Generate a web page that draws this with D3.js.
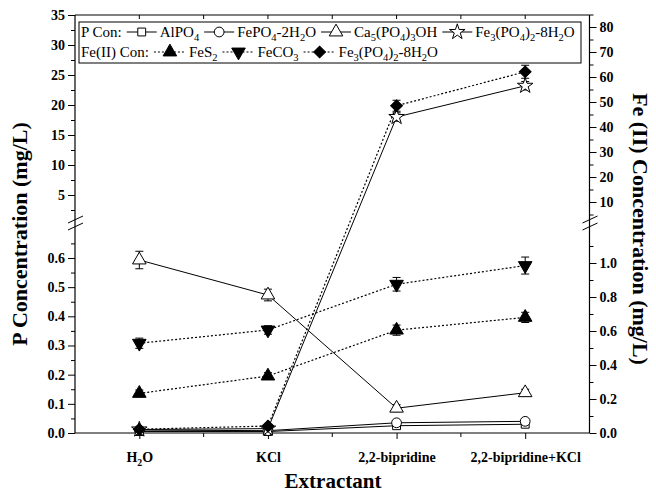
<!DOCTYPE html>
<html><head><meta charset="utf-8">
<script src="https://cdn.jsdelivr.net/npm/d3@7"></script>
<style>body{margin:0;background:#fff} svg{display:block}</style>
</head><body><svg id="c" width="656" height="494"></svg>
<script>
// ---- data ----
const categories = ["H_{2}O", "KCl", "2,2-bipridine", "2,2-bipridine+KCl"];
// P concentration (left axis, mg/L)
const alpo4 = [0.005, 0.005, 0.025, 0.030];
const alpo4Err = [0, 0, 0.006, 0.006];
const fepo4 = [0.010, 0.008, 0.035, 0.040];
const fepo4Err = [0, 0, 0.006, 0.006];
const ca5 = [0.593, 0.473, 0.085, 0.138];
const ca5Err = [0.03, 0.02, 0.012, 0.012];
const fe3pP = [0.012, 0.015, 18.0, 23.2];
const fe3pPErr = [0, 0, 0.7, 0.7];
// Fe(II) concentration (right axis, mg/L)
const fes2 = [0.233, 0.335, 0.605, 0.680];
const fes2Err = [0.02, 0.02, 0.03, 0.03];
const feco3 = [0.528, 0.606, 0.875, 0.985];
const feco3Err = [0.03, 0.025, 0.04, 0.05];
const fe3pFe = [0.022, 0.041, 48.5, 62.1];
const fe3pFeErr = [0.01, 0.01, 2.2, 2.6];
// ticks
const leftUpperTicks = [5, 10, 15, 20, 25, 30, 35];
const leftUpperMinor = [2.5, 7.5, 12.5, 17.5, 22.5, 27.5, 32.5];
const leftLowerTicks = [0, 0.1, 0.2, 0.3, 0.4, 0.5, 0.6];
const leftLowerMinor = [0.05, 0.15, 0.25, 0.35, 0.45, 0.55, 0.65];
const rightUpperTicks = [10, 20, 30, 40, 50, 60, 70, 80];
const rightUpperMinor = [5, 15, 25, 35, 45, 55, 65, 75, 85];
const rightLowerTicks = [0, 0.2, 0.4, 0.6, 0.8, 1.0];
const rightLowerMinor = [0.1, 0.3, 0.5, 0.7, 0.9, 1.1];

const FONT = "'Liberation Serif','Times New Roman',serif";
const svg = d3.select("#c");

// ---- scales ----
const L = 75, R = 589.5, T = 15, B = 433;
const x = d3.scalePoint().domain(categories).range([L, R]).padding(0.5);
const yLL = d3.scaleLinear().domain([0, 0.7]).range([B, 228.8]);
const yLU = d3.scaleLinear().domain([1.5, 35]).range([216, T]);
const yL = v => v <= 0.7 ? yLL(v) : yLU(v);
const yRL = d3.scaleLinear().domain([0, 1.2]).range([B, 229]);
const yRU = d3.scaleLinear().domain([4, 85]).range([217, 14.5]);
const yR = v => v <= 1.2 ? yRL(v) : yRU(v);

// rich text helper: _{..} = subscript
function rich(sel, str, size) {
  const parts = str.split(/(_\{[^}]*\})/).filter(s => s.length);
  let off = 0;
  parts.forEach(p => {
    const sub = p.startsWith("_{");
    const txt = sub ? p.slice(2, -1) : p;
    const target = sub ? size * 0.28 : 0;
    sel.append("tspan").attr("dy", target - off)
      .attr("font-size", sub ? size * 0.7 : size).text(txt);
    off = target;
  });
}

// ---- axes ----
function styleAxis(g) {
  g.select(".domain").remove();
  g.selectAll("text").attr("font-family", FONT).attr("font-weight", "bold")
    .attr("font-size", 14).attr("fill", "#000");
  g.selectAll("line").attr("stroke", "#000").attr("stroke-width", 1);
}
const fmt1 = d3.format(".1f");
svg.append("g").attr("transform", `translate(${L},0)`)
  .call(d3.axisLeft(yLU).tickValues(leftUpperTicks).tickSize(7).tickPadding(3)).call(styleAxis);
svg.append("g").attr("transform", `translate(${L},0)`)
  .call(d3.axisLeft(yLU).tickValues(leftUpperMinor).tickSize(4).tickFormat("")).call(styleAxis);
svg.append("g").attr("transform", `translate(${L},0)`)
  .call(d3.axisLeft(yLL).tickValues(leftLowerTicks).tickSize(7).tickPadding(3).tickFormat(fmt1)).call(styleAxis);
svg.append("g").attr("transform", `translate(${L},0)`)
  .call(d3.axisLeft(yLL).tickValues(leftLowerMinor).tickSize(4).tickFormat("")).call(styleAxis);
svg.append("g").attr("transform", `translate(${R},0)`)
  .call(d3.axisRight(yRU).tickValues(rightUpperTicks).tickSize(7).tickPadding(3)).call(styleAxis);
svg.append("g").attr("transform", `translate(${R},0)`)
  .call(d3.axisRight(yRU).tickValues(rightUpperMinor).tickSize(4).tickFormat("")).call(styleAxis);
svg.append("g").attr("transform", `translate(${R},0)`)
  .call(d3.axisRight(yRL).tickValues(rightLowerTicks).tickSize(7).tickPadding(3).tickFormat(fmt1)).call(styleAxis);
svg.append("g").attr("transform", `translate(${R},0)`)
  .call(d3.axisRight(yRL).tickValues(rightLowerMinor).tickSize(4).tickFormat("")).call(styleAxis);

// x axis
const xa = svg.append("g").attr("transform", `translate(0,${B})`)
  .call(d3.axisBottom(x).tickSize(6).tickPadding(12).tickFormat(""));
styleAxis(xa);
xa.selectAll(".tick").each(function(d) {
  const t = d3.select(this).append("text").attr("y", 29).attr("text-anchor", "middle")
    .attr("font-family", FONT).attr("font-weight", "bold").attr("fill", "#000");
  rich(t, d, 14);
});
const step = x.step();
const mids = categories.slice(0, -1).map(c => x(c) + step / 2);
svg.append("g").selectAll("line").data(mids).join("line")
  .attr("x1", d => d).attr("x2", d => d).attr("y1", B).attr("y2", B + 4).attr("stroke", "#000");
// top ticks
svg.append("g").selectAll("line").data(categories.map(c => x(c)).concat(mids)).join("line")
  .attr("x1", d => d).attr("x2", d => d).attr("y1", T).attr("y2", T + 4).attr("stroke", "#000");

// frame lines
const frame = svg.append("g").attr("stroke", "#000").attr("stroke-width", 1.2);
frame.append("line").attr("x1", L).attr("x2", L).attr("y1", T).attr("y2", B);
frame.append("line").attr("x1", R).attr("x2", R).attr("y1", T).attr("y2", B);
frame.append("line").attr("x1", L).attr("x2", R).attr("y1", B).attr("y2", B);
frame.append("line").attr("x1", L).attr("x2", R).attr("y1", T).attr("y2", T);
// break marks
[L, R].forEach(ax => {
  [0, 7].forEach(o => {
    svg.append("line").attr("x1", ax - 7).attr("y1", 223 + o).attr("x2", ax + 8).attr("y2", 216 + o)
      .attr("stroke", "#000").attr("stroke-width", 1);
  });
});

// ---- series ----
const seriesP = [
  {name: "AlPO_{4}", vals: alpo4, err: alpo4Err, shape: "square", fill: "#fff"},
  {name: "FePO_{4}-2H_{2}O", vals: fepo4, err: fepo4Err, shape: "circle", fill: "#fff"},
  {name: "Ca_{5}(PO_{4})_{3}OH", vals: ca5, err: ca5Err, shape: "triUp", fill: "#fff"},
  {name: "Fe_{3}(PO_{4})_{2}-8H_{2}O", vals: fe3pP, err: fe3pPErr, shape: "star", fill: "#fff"}
];
const seriesFe = [
  {name: "FeS_{2}", vals: fes2, err: fes2Err, shape: "triUp", fill: "#000"},
  {name: "FeCO_{3}", vals: feco3, err: feco3Err, shape: "triDown", fill: "#000"},
  {name: "Fe_{3}(PO_{4})_{2}-8H_{2}O", vals: fe3pFe, err: fe3pFeErr, shape: "diamond", fill: "#000"}
];
function symPath(shape) {
  switch (shape) {
    case "square": return d3.symbol(d3.symbolSquare, 62)();
    case "circle": return d3.symbol(d3.symbolCircle, 75)();
    case "triUp": return d3.symbol(d3.symbolTriangle, 80)();
    case "triDown": return d3.symbol(d3.symbolTriangle, 80)();
    case "star": return d3.symbol(d3.symbolStar, 75)();
    case "diamond": return d3.symbol(d3.symbolSquare, 70)();
  }
}
function symRot(shape) { return shape === "triDown" ? 180 : shape === "diamond" ? 45 : 0; }
function drawMarker(g, shape, fill, cx, cy) {
  g.append("path").attr("d", symPath(shape))
    .attr("transform", `translate(${cx},${cy}) rotate(${symRot(shape)})`)
    .attr("fill", fill).attr("stroke", "#000").attr("stroke-width", 1);
}
function drawSeries(s, yf, dashed) {
  const g = svg.append("g");
  const pts = s.vals.map((v, i) => [x(categories[i]), yf(v)]);
  g.append("path").attr("d", d3.line()(pts)).attr("fill", "none").attr("stroke", "#000")
    .attr("stroke-width", dashed ? 1.2 : 1).attr("stroke-dasharray", dashed ? "2,2" : null);
  s.vals.forEach((v, i) => {
    const e = s.err[i];
    if (e > 0) {
      const cx = x(categories[i]), y1 = yf(v + e), y2 = yf(v - e);
      g.append("line").attr("x1", cx).attr("x2", cx).attr("y1", y1).attr("y2", y2).attr("stroke", "#000");
      [y1, y2].forEach(yy => g.append("line").attr("x1", cx - 4).attr("x2", cx + 4)
        .attr("y1", yy).attr("y2", yy).attr("stroke", "#000"));
    }
  });
  s.vals.forEach((v, i) => drawMarker(g, s.shape, s.fill, x(categories[i]), yf(v)));
}
seriesP.forEach(s => drawSeries(s, yL, false));
seriesFe.forEach(s => drawSeries(s, yR, true));

// ---- legend ----
const lg = svg.append("g");
lg.append("rect").attr("x", 79).attr("y", 22).attr("width", 502).attr("height", 41)
  .attr("fill", "#fff").attr("stroke", "#000").attr("stroke-width", 1);
function legendRow(label, items, yBase, dashed) {
  let cx = 81;
  const t0 = lg.append("text").attr("x", cx).attr("y", yBase).attr("font-family", FONT)
    .attr("font-size", 15).text(label);
  cx += t0.node().getComputedTextLength() + 5;
  items.forEach(s => {
    const w = dashed ? 32 : 30;
    lg.append("line").attr("x1", cx).attr("x2", cx + w).attr("y1", yBase - 5).attr("y2", yBase - 5)
      .attr("stroke", "#000").attr("stroke-width", 1).attr("stroke-dasharray", dashed ? "2,2" : null);
    drawMarker(lg, s.shape, s.fill, cx + w / 2, yBase - 5);
    cx += w + 3;
    const t = lg.append("text").attr("x", cx).attr("y", yBase).attr("font-family", FONT).attr("fill", "#000");
    rich(t, s.name, 15);
    cx += t.node().getComputedTextLength() + 5;
  });
}
legendRow("P Con:", seriesP, 37, false);
legendRow("Fe(II) Con:", seriesFe, 57, true);

// ---- titles ----
svg.append("text").attr("x", 333).attr("y", 488).attr("text-anchor", "middle")
  .attr("font-family", FONT).attr("font-weight", "bold").attr("font-size", 21).text("Extractant");
svg.append("text").attr("transform", "translate(27,234) rotate(-90)").attr("text-anchor", "middle")
  .attr("font-family", FONT).attr("font-weight", "bold").attr("font-size", 22).text("P Concentration (mg/L)");
svg.append("text").attr("transform", "translate(633,229) rotate(90)").attr("text-anchor", "middle")
  .attr("font-family", FONT).attr("font-weight", "bold").attr("font-size", 22).text("Fe (II) Concentration (mg/L)");
</script></body></html>
